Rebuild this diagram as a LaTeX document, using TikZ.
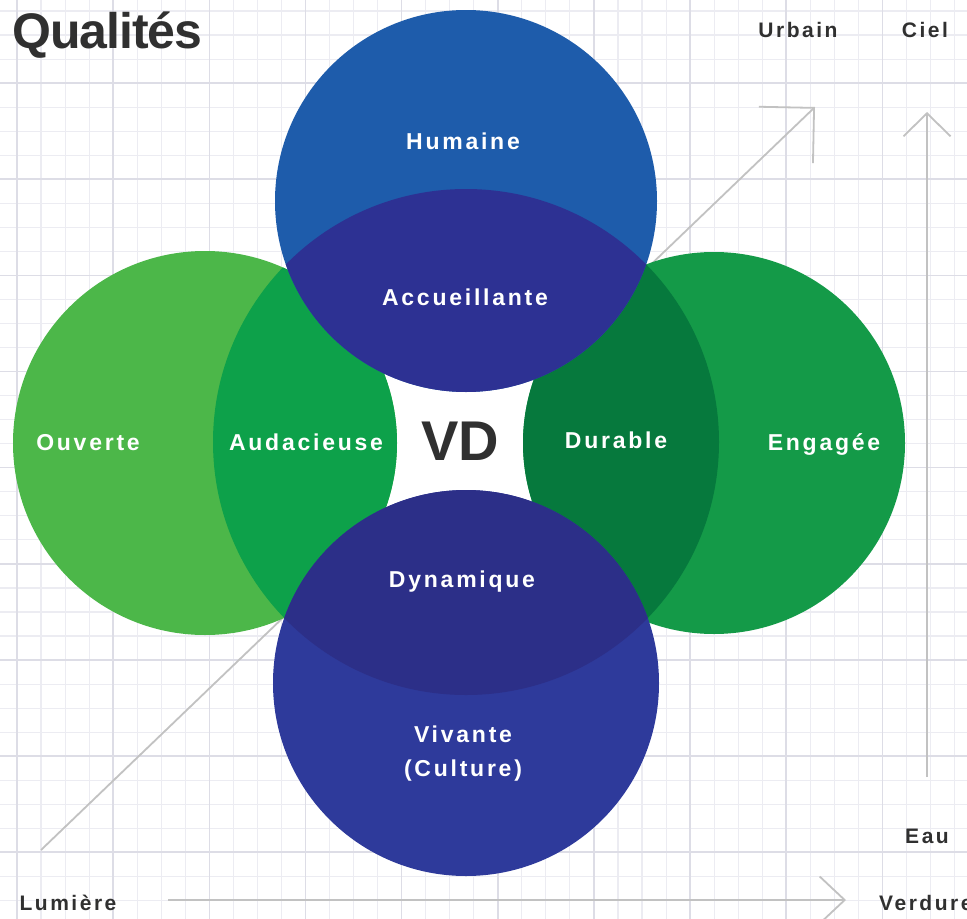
\documentclass[tikz,border=0pt]{standalone}
\usepackage{fontspec}
\setmainfont{Liberation Sans}
\newfontfamily\spacedfont[LetterSpace=12]{Liberation Sans}
\newfontfamily\titlefont[LetterSpace=-2]{Liberation Sans}
\usetikzlibrary{arrows.meta}

\definecolor{gridlight}{HTML}{ECECF2}
\definecolor{griddark}{HTML}{DDDDE6}
\definecolor{axisgray}{HTML}{C2C2C2}
\definecolor{inkgray}{HTML}{303030}
\definecolor{ouvertegreen}{HTML}{4CB749}
\definecolor{audacegreen}{HTML}{0DA14A}
\definecolor{engageegreen}{HTML}{149A48}
\definecolor{durablegreen}{HTML}{06793D}
\definecolor{humaineblue}{HTML}{1E5CAB}
\definecolor{accueilblue}{HTML}{2D3193}
\definecolor{vivanteblue}{HTML}{2E3A9B}
\definecolor{dynamiqueblue}{HTML}{2C2F88}

\tikzset{
  gridminor/.style={draw=gridlight, line width=1.1bp},
  gridmajor/.style={draw=griddark, line width=1.6bp},
  axis/.style={draw=axisgray, line width=1.8bp},
  quality/.style={text=white, inner sep=0, align=center,
    font=\spacedfont\bfseries\fontsize{23bp}{34bp}\selectfont},
  axislabel/.style={text=inkgray, inner sep=0, anchor=base,
    font=\spacedfont\bfseries\fontsize{21bp}{24bp}\selectfont},
}

\begin{document}
\begin{tikzpicture}[x=1bp,y=-1bp]
\useasboundingbox (0,0) rectangle (967,919);
\fill[white] (0,0) rectangle (967,919);

% grid
\foreach \k in {-1,...,39}
  \draw[gridminor] ({17+24.04*\k},0) -- ({17+24.04*\k},919);
\foreach \k in {-1,...,38}
  \draw[gridminor] (0,{11+24.04*\k}) -- (967,{11+24.04*\k});
\foreach \k in {0,...,9}
  \draw[gridmajor] ({17+96.16*\k},0) -- ({17+96.16*\k},919);
\foreach \k in {0,...,8}
  \draw[gridmajor] (0,{83+96.16*\k}) -- (967,{83+96.16*\k});

\node[anchor=base west, inner sep=0, text=inkgray,
  font=\titlefont\bfseries\fontsize{50bp}{52bp}\selectfont] (title) at (12,48) {Qualités};

% axes
\node[axislabel] (urbain) at (798,37) {Urbain};
\node[axislabel] (ciel) at (925,37) {Ciel};
\node[axislabel] (eau) at (927,843) {Eau};
\node[axislabel] (lumiere) at (68,910) {Lumière};
\node[axislabel, anchor=base west] (verdure) at (879,910) {Verdure};

\coordinate (diagstart) at (41,850);
\coordinate (diagtip) at (815,107);
\coordinate (vertstart) at (927,777);
\coordinate (verttip) at (927,112);
\coordinate (horstart) at (168,900);
\coordinate (hortip) at (846,900);
\draw[axis, -{Straight Barb[length=39bp,width=78bp]}] (diagstart) -- (diagtip);
\draw[axis, -{Straight Barb[length=23bp,width=47bp]}] (vertstart) -- (verttip);
\draw[axis, -{Straight Barb[length=25bp,width=47bp]}] (horstart) -- (hortip);

% circles
\coordinate (core) at (466,442);
\coordinate (topc) at (466,201);
\coordinate (botc) at (466,683);
\coordinate (leftc) at (205,443);
\coordinate (rightc) at (714,443);

\fill[white] (core) circle (253);
\fill[ouvertegreen] (leftc) circle (192);
\fill[engageegreen] (rightc) circle (191);
\begin{scope}
  \clip (core) circle (253);
  \fill[audacegreen] (leftc) circle (192);
  \fill[durablegreen] (rightc) circle (191);
\end{scope}
\fill[humaineblue] (topc) circle (191);
\fill[vivanteblue] (botc) circle (193);
\begin{scope}
  \clip (core) circle (253);
  \fill[accueilblue] (topc) circle (191);
  \fill[dynamiqueblue] (botc) circle (193);
\end{scope}

% labels
\node[quality, anchor=base] (humaine) at (463,149) {Humaine};
\node[quality, anchor=base] (accueil) at (465,305) {Accueillante};
\node[quality, anchor=base] (ouverte) at (88,450) {Ouverte};
\node[quality, anchor=base] (audace) at (306,450) {Audacieuse};
\node[quality, anchor=base] (durable) at (616,448) {Durable};
\node[quality, anchor=base] (engagee) at (824,450) {Engagée};
\node[quality, anchor=base] (dynamique) at (462,587) {Dynamique};
\node[quality] (vivante) at (463,754) {Vivante\\(Culture)};
\node[anchor=base, inner sep=0, text=inkgray,
  font=\bfseries\fontsize{56bp}{60bp}\selectfont] (vd) at (460,460) {VD};
\end{tikzpicture}
\end{document}
